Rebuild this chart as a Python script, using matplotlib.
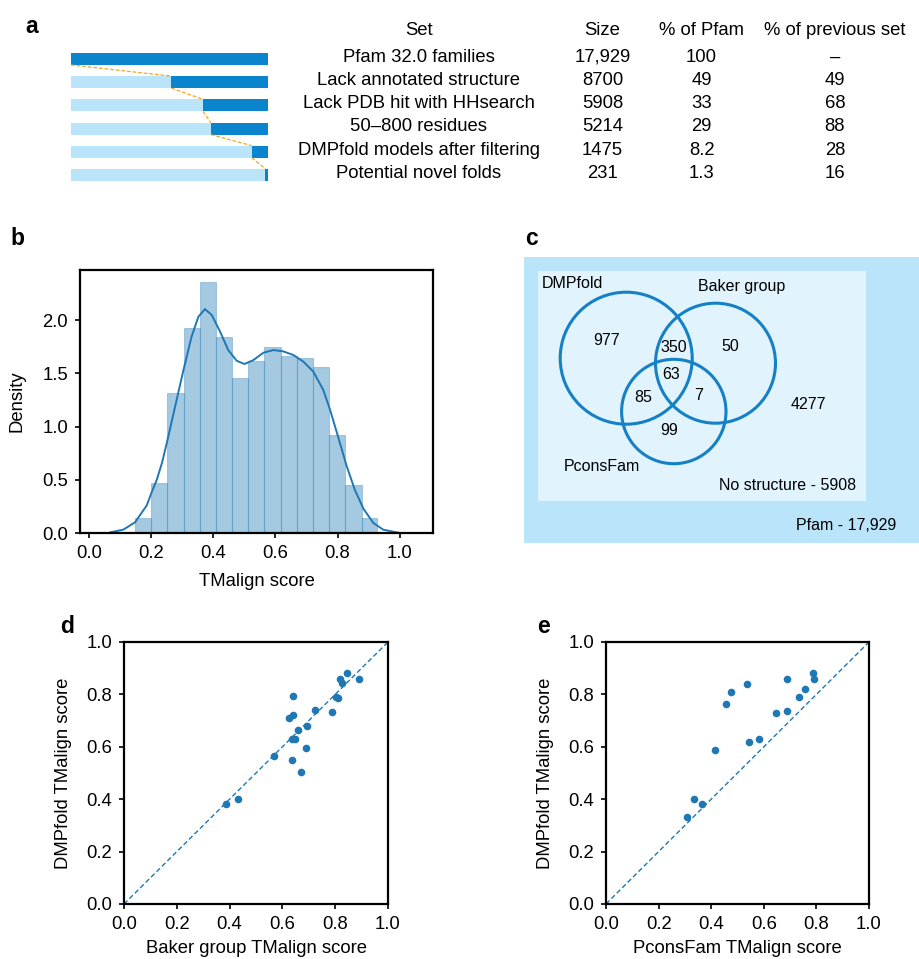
import numpy as np
import matplotlib
matplotlib.use("Agg")
import matplotlib.pyplot as plt
from matplotlib.patches import Circle, Rectangle

plt.rcParams['font.family'] = ['Liberation Sans', 'DejaVu Sans']
plt.rcParams['font.size'] = 13

# ---- data ----
set_names = ['Pfam 32.0 families', 'Lack annotated structure', 'Lack PDB hit with HHsearch',
             '50\u2013800 residues', 'DMPfold models after filtering', 'Potential novel folds']
set_size = ['17,929', '8700', '5908', '5214', '1475', '231']
pct_pfam = [100, 49, 33, 29, 8.2, 1.3]
pct_prev = ['\u2013', '49', '68', '88', '28', '16']

hist_edges = [0.148, 0.200, 0.252, 0.305, 0.356, 0.408, 0.461, 0.513, 0.564,
              0.617, 0.668, 0.721, 0.773, 0.825, 0.877, 0.928]
hist_dens = [0.141, 0.470, 1.313, 1.925, 2.354, 1.840, 1.455, 1.614, 1.746,
             1.665, 1.643, 1.561, 0.918, 0.448, 0.141]
kde_x = [0.068, 0.110, 0.148, 0.186, 0.200, 0.218, 0.235, 0.250, 0.277, 0.304, 0.330,
         0.352, 0.373, 0.395, 0.422, 0.448, 0.475, 0.500, 0.529, 0.561, 0.593, 0.625,
         0.658, 0.690, 0.722, 0.754, 0.776, 0.803, 0.829, 0.856, 0.883, 0.915, 0.947, 0.995]
kde_y = [0.006, 0.031, 0.100, 0.260, 0.370, 0.500, 0.660, 0.842, 1.186, 1.531, 1.843,
         2.031, 2.103, 2.047, 1.890, 1.718, 1.618, 1.587, 1.624, 1.693, 1.718, 1.706,
         1.671, 1.609, 1.515, 1.343, 1.155, 0.890, 0.630, 0.401, 0.229, 0.094, 0.031, 0.003]

venn_counts = {'D': 977, 'DB': 350, 'B': 50, 'DBP': 63, 'DP': 85, 'BP': 7, 'P': 99, 'none': 4277}
no_structure = 5908
pfam_total = '17,929'

baker_x = [0.385, 0.431, 0.570, 0.637, 0.670, 0.689, 0.637, 0.649, 0.658, 0.695, 0.625,
           0.641, 0.639, 0.723, 0.786, 0.802, 0.812, 0.820, 0.825, 0.844, 0.889]
baker_y = [0.383, 0.399, 0.566, 0.548, 0.505, 0.597, 0.628, 0.628, 0.665, 0.678, 0.711,
           0.720, 0.794, 0.739, 0.733, 0.791, 0.786, 0.860, 0.842, 0.882, 0.860]
pcons_x = [0.309, 0.335, 0.365, 0.414, 0.458, 0.476, 0.538, 0.542, 0.580, 0.648, 0.687,
           0.690, 0.734, 0.758, 0.787, 0.790]
pcons_y = [0.331, 0.399, 0.383, 0.589, 0.763, 0.810, 0.840, 0.617, 0.631, 0.729, 0.860,
           0.738, 0.791, 0.822, 0.883, 0.860]

W, H = 919, 959
fig = plt.figure(figsize=(W / 100, H / 100), dpi=100)

def rect(l, t, r, b):
    return [l / W, 1 - b / H, (r - l) / W, (b - t) / H]

dark = '#0a84cc'
light = '#b9e4f9'
c0 = '#1f77b4'
fs = 13.3

# ---- panel a ----
axa = fig.add_axes(rect(71, 20, 919, 190))
axa.set_xlim(0, 848 / 197)
axa.set_ylim(5.65, -1.68)
axa.axis('off')
bh = 0.52
n = len(pct_pfam)
for i in range(n):
    f = pct_pfam[i] / 100
    axa.barh(i, 1, height=bh, color=light, left=0)
    axa.barh(i, f, height=bh, color=dark, left=1 - f)
for i in range(n - 1):
    x0 = 1 - pct_pfam[i] / 100
    x1 = 1 - pct_pfam[i + 1] / 100
    axa.plot([x0, x1], [i + bh / 2, i + 1 - bh / 2], ls='--', color='#f5a623', lw=0.9, dashes=(3, 1.5))
cols = [1.766, 2.698, 3.201, 3.878]
heads = ['Set', 'Size', '% of Pfam', '% of previous set']
for cx, hd in zip(cols, heads):
    axa.text(cx, -1.22, hd, ha='center', va='center', fontsize=fs)
for i in range(n):
    pp = pct_pfam[i]
    ptxt = str(int(pp)) if pp >= 10 else str(pp)
    for cx, t in zip(cols, [set_names[i], set_size[i], ptxt, pct_prev[i]]):
        axa.text(cx, i - 0.07, t, ha='center', va='center', fontsize=fs)

# ---- panel b ----
axb = fig.add_axes(rect(80, 270, 433, 533))
axb.bar(hist_edges[:-1], hist_dens, width=np.diff(hist_edges), align='edge',
        facecolor=(0.12, 0.47, 0.71, 0.4), edgecolor=(0.12, 0.47, 0.71, 0.3), lw=0.8)
axb.plot(kde_x, kde_y, color=c0, lw=1.4)
axb.set_xlim(-0.029, 1.107)
axb.set_ylim(0, 2.47)
axb.set_xticks([0, 0.2, 0.4, 0.6, 0.8, 1.0])
axb.set_yticks([0, 0.5, 1.0, 1.5, 2.0])
axb.set_xticklabels(['0.0', '0.2', '0.4', '0.6', '0.8', '1.0'])
axb.set_yticklabels(['0.0', '0.5', '1.0', '1.5', '2.0'])
axb.set_xlabel('TMalign score', labelpad=8)
axb.set_ylabel('Density', labelpad=12)

# ---- panel c ----
axc = fig.add_axes(rect(524, 257, 919, 543))
axc.set_xlim(0, 395)
axc.set_ylim(286, 0)
axc.axis('off')
axc.add_patch(Rectangle((0, 0), 395, 286, color=light, lw=0))
axc.add_patch(Rectangle((13.7, 14), 328.3, 229.7, color='#e1f4fd', lw=0))
circ_col = '#1580c6'
for (cx, cy, r) in [(102.2, 101.2, 66), (191.5, 106.2, 60), (149.8, 154.5, 52.2)]:
    axc.add_patch(Circle((cx, cy), r, fill=False, ec=circ_col, lw=2.2))
pos = {'D': (82.7, 83.7), 'DB': (149.3, 90.7), 'B': (206, 89.7), 'DBP': (146.7, 117.3),
       'DP': (118.7, 140.7), 'BP': (175, 138.7), 'P': (145.3, 173.7), 'none': (284.3, 147.3)}
for k, v in venn_counts.items():
    axc.text(pos[k][0], pos[k][1], str(v), ha='center', va='center', fontsize=11.5)
axc.text(17.7, 26.3, 'DMPfold', ha='left', va='center', fontsize=11.5)
axc.text(173.7, 29, 'Baker group', ha='left', va='center', fontsize=11.5)
axc.text(39.3, 209.7, 'PconsFam', ha='left', va='center', fontsize=11.5)
axc.text(331.7, 228, 'No structure - %d' % no_structure, ha='right', va='center', fontsize=11.5)
axc.text(372, 268, 'Pfam - ' + pfam_total, ha='right', va='center', fontsize=11.5)

# ---- panels d, e ----
axd = fig.add_axes(rect(124, 642, 388, 904))
axe = fig.add_axes(rect(606, 642, 869, 904))
for ax, xs, ys, xl in [(axd, baker_x, baker_y, 'Baker group TMalign score'),
                       (axe, pcons_x, pcons_y, 'PconsFam TMalign score')]:
    ax.plot([0, 1], [0, 1], ls='--', color=c0, lw=1.0, dashes=(3.5, 2))
    ax.scatter(xs, ys, s=30, color=c0, zorder=3, lw=0)
    ax.set_xlim(0, 1)
    ax.set_ylim(0, 1)
    ticks = [0, 0.2, 0.4, 0.6, 0.8, 1.0]
    ax.set_xticks(ticks)
    ax.set_yticks(ticks)
    ax.set_xticklabels(['%.1f' % t for t in ticks])
    ax.set_yticklabels(['%.1f' % t for t in ticks])
    ax.set_xlabel(xl, labelpad=5)
    ax.set_ylabel('DMPfold TMalign score', labelpad=10)

for ax in [axb, axd, axe]:
    for s in ax.spines.values():
        s.set_linewidth(1.6)
    ax.tick_params(labelsize=fs, width=1.2, length=3.5, pad=5, direction='out')
    ax.xaxis.label.set_size(fs)
    ax.yaxis.label.set_size(fs)

# panel letters
for lab, px, py in [('a', 25, 33), ('b', 10, 245), ('c', 525, 245), ('d', 60, 633), ('e', 537, 633)]:
    fig.text(px / W, 1 - py / H, lab, fontsize=16.5, fontweight='bold', ha='left', va='baseline')

fig.savefig('out.png', dpi=100)
